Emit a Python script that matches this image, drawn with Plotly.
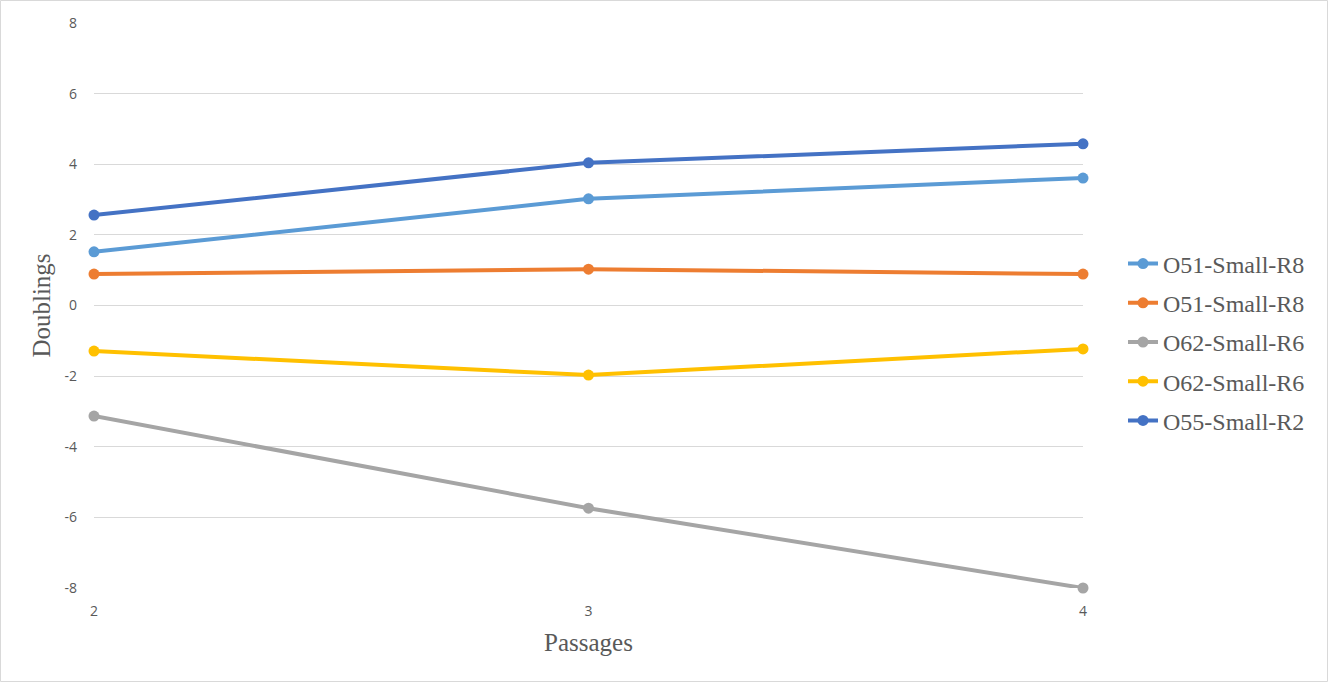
import plotly.graph_objects as go

passages = [2, 3, 4]
series_names = ["O51-Small-R8", "O51-Small-R8", "O62-Small-R6", "O62-Small-R6", "O55-Small-R2"]
light_blue_vals = [1.52, 3.02, 3.61]
orange_vals = [0.89, 1.03, 0.89]
gray_vals = [-3.13, -5.74, -8.0]
yellow_vals = [-1.29, -1.97, -1.23]
dark_blue_vals = [2.56, 4.04, 4.58]
y_ticks = [-8, -6, -4, -2, 0, 2, 4, 6, 8]
y_tick_labels = ["-8", "-6", "-4", "-2", "0", "2", "4", "6", "8"]

series_values = [light_blue_vals, orange_vals, gray_vals, yellow_vals, dark_blue_vals]
colors = ["#5B9BD5", "#ED7D31", "#A5A5A5", "#FFC000", "#4472C4"]

fig = go.Figure()
for i, (name, vals, col) in enumerate(zip(series_names, series_values, colors)):
    fig.add_trace(go.Scatter(
        x=passages, y=vals, name=name, mode="lines+markers",
        line=dict(color=col, width=4),
        marker=dict(color=col, size=11),
        cliponaxis=False, legendgroup=f"g{i}",
    ))

L, R, T, B = 94, 1083, 23, 588
W, H = 1328, 682
pw, ph = R - L, B - T

fig.update_layout(
    width=W, height=H,
    margin=dict(l=L, r=W - R, t=T, b=H - B),
    paper_bgcolor="white", plot_bgcolor="white",
    showlegend=True,
    legend=dict(
        x=(1123 - L) / pw, xanchor="left",
        y=(B - 342) / ph, yanchor="middle",
        font=dict(family="Liberation Serif", size=24, color="#595959"),
        traceorder="grouped", tracegroupgap=5,
        bgcolor="rgba(0,0,0,0)",
    ),
    xaxis=dict(
        range=[2, 4], tickvals=passages, ticktext=[str(p) for p in passages],
        showgrid=False, zeroline=False, showline=False,
        tickfont=dict(family="Open Sans", size=14, color="#595959"),
        ticks="", ticklabelstandoff=13,
        title=dict(text="Passages", font=dict(family="Liberation Serif", size=25, color="#595959"), standoff=14),
    ),
    yaxis=dict(
        range=[-8, 8], tickvals=y_ticks, ticktext=y_tick_labels,
        showgrid=True, gridcolor="#D9D9D9", gridwidth=1,
        zeroline=True, zerolinecolor="#D9D9D9", zerolinewidth=1, showline=False,
        tickfont=dict(family="Open Sans", size=14, color="#595959"),
        ticks="", ticklabelstandoff=16,
        title=dict(text="Doublings", font=dict(family="Liberation Serif", size=25, color="#595959"), standoff=6),
    ),
    shapes=[dict(
        type="rect", xref="paper", yref="paper",
        x0=(0.5 - L) / pw, x1=(W - 0.5 - L) / pw,
        y0=(B - (H - 0.5)) / ph, y1=(B - 0.5) / ph,
        line=dict(color="#D9D9D9", width=1), fillcolor="rgba(0,0,0,0)", layer="below",
    )],
)

fig.write_html("out.html")
